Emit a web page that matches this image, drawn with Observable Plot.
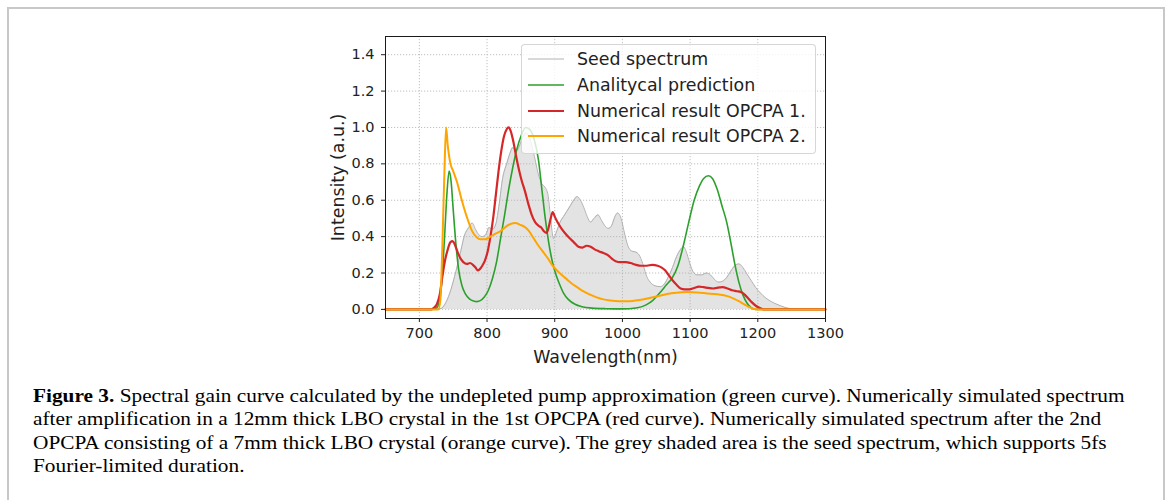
<!DOCTYPE html>
<html>
<head>
<meta charset="utf-8">
<script src="https://cdn.jsdelivr.net/npm/d3@7"></script>
<script src="https://cdn.jsdelivr.net/npm/@observablehq/plot@0.6"></script>
<style>
  html, body { margin: 0; padding: 0; background: #fff; }
  #page { position: relative; width: 1167px; height: 500px; overflow: hidden; background: #fff; }
  #box { position: absolute; left: 7px; top: 7px; width: 1154px; height: 560px; border: 2px solid #c8c8c8; box-sizing: content-box; }
  #chart { position: absolute; left: 0; top: 0; }
  #legend { position: absolute; left: 521px; top: 44px; width: 293px; height: 108px;
            background: rgba(255,255,255,0.8); border: 1px solid rgba(204,204,204,0.8); border-radius: 4px;
            font-family: "DejaVu Sans", sans-serif; font-size: 17.4px; color: #222; }
  .row { position: absolute; left: 0; height: 26px; line-height: 26px; white-space: nowrap; }
  .row svg { position: absolute; left: 6px; top: 0; }
  .row span { position: absolute; left: 55px; top: 0; }
  #caption { position: absolute; left: 33px; top: 385px; font-family: "Liberation Serif", serif;
             font-size: 18px; line-height: 23.3px; color: #000; white-space: nowrap;
             transform: scaleX(1.184); transform-origin: 0 0; }
</style>
</head>
<body>
<div id="page">
  <div id="box"></div>
  <div id="chart"></div>
  <div id="legend"></div>
  <div id="caption"></div>
</div>
<script>
// Wavelength (nm) / normalised intensity pairs for each spectrum
const seed = [
  [650,0],[720,0],[732,0.005],[738,0.03],[745,0.09],[752,0.18],[760,0.3],[767,0.41],[773,0.45],
  [778,0.475],[783,0.44],[788,0.41],[793,0.4],[798,0.41],[803,0.45],[808,0.44],[813,0.47],[818,0.58],
  [823,0.72],[829,0.8],[834,0.86],[838,0.89],[843,0.87],[848,0.9],[853,0.95],[858,0.97],[864,0.93],
  [870,0.84],[876,0.74],[881,0.69],[886,0.67],[890,0.63],[894,0.5],[898,0.39],[903,0.43],[908,0.48],
  [913,0.51],[918,0.54],[923,0.57],[928,0.6],[933,0.62],[938,0.6],[943,0.56],[948,0.51],[953,0.48],
  [958,0.5],[964,0.52],[969,0.49],[974,0.46],[979,0.445],[984,0.46],[989,0.51],[993,0.53],[998,0.5],
  [1003,0.42],[1008,0.35],[1014,0.32],[1020,0.315],[1026,0.29],[1031,0.24],[1036,0.18],[1041,0.15],
  [1048,0.13],[1056,0.125],[1062,0.14],[1068,0.18],[1074,0.23],[1080,0.29],[1086,0.33],[1090,0.345],
  [1094,0.32],[1099,0.26],[1104,0.21],[1110,0.19],[1117,0.19],[1124,0.2],[1130,0.19],[1136,0.165],
  [1142,0.15],[1148,0.155],[1154,0.175],[1160,0.21],[1166,0.24],[1172,0.25],[1178,0.23],[1184,0.195],
  [1190,0.16],[1197,0.12],[1204,0.09],[1211,0.065],[1219,0.045],[1227,0.03],[1235,0.018],[1243,0.008],
  [1250,0.003],[1258,0],[1300,0]
];
const gain = [
  [650,0],[720,0],[726,0.01],[731,0.07],[735,0.25],[738,0.45],[741,0.65],[744,0.76],[747,0.7],
  [750,0.55],[754,0.36],[758,0.22],[763,0.13],[768,0.085],[774,0.058],[780,0.046],[785,0.043],
  [790,0.048],[796,0.068],[802,0.105],[808,0.17],[814,0.26],[820,0.39],[826,0.52],[832,0.66],
  [838,0.78],[844,0.88],[850,0.95],[857,1.0],[861,0.995],[865,0.98],[870,0.93],[876,0.82],[881,0.66],
  [886,0.5],[891,0.37],[896,0.27],[901,0.2],[907,0.14],[913,0.09],[920,0.055],[930,0.028],[940,0.015],
  [955,0.007],[975,0.004],[1000,0.003],[1020,0.008],[1035,0.025],[1045,0.05],[1055,0.09],[1065,0.135],
  [1073,0.17],[1082,0.24],[1090,0.35],[1098,0.48],[1106,0.6],[1114,0.68],[1120,0.72],[1127,0.735],
  [1133,0.72],[1140,0.66],[1147,0.57],[1154,0.48],[1160,0.37],[1166,0.25],[1172,0.15],[1178,0.08],
  [1184,0.035],[1190,0.01],[1197,0],[1300,0]
];
const opcpa1 = [
  [650,0],[718,0],[722,0.01],[726,0.03],[730,0.08],[734,0.18],[738,0.27],[742,0.33],[746,0.37],
  [749,0.375],[752,0.36],[756,0.32],[760,0.285],[765,0.26],[770,0.25],[775,0.255],[779,0.245],
  [783,0.23],[786,0.215],[789,0.22],[793,0.24],[797,0.27],[801,0.32],[805,0.4],[809,0.5],[813,0.63],
  [817,0.76],[821,0.87],[825,0.95],[829,0.99],[832,1.0],[835,0.98],[839,0.92],[843,0.84],[847,0.77],
  [851,0.71],[856,0.65],[861,0.58],[866,0.52],[871,0.48],[876,0.46],[880,0.45],[884,0.43],[888,0.42],
  [891,0.45],[894,0.5],[897,0.535],[900,0.51],[904,0.48],[909,0.45],[915,0.42],[921,0.395],[928,0.37],
  [935,0.345],[941,0.34],[947,0.35],[953,0.345],[959,0.33],[965,0.32],[972,0.31],[978,0.3],[984,0.28],
  [990,0.265],[997,0.26],[1005,0.26],[1012,0.255],[1020,0.245],[1028,0.24],[1036,0.24],[1044,0.245],
  [1052,0.24],[1058,0.23],[1063,0.215],[1068,0.19],[1074,0.16],[1080,0.135],[1086,0.115],[1092,0.11],
  [1099,0.11],[1106,0.118],[1113,0.125],[1120,0.122],[1127,0.118],[1134,0.115],[1141,0.12],[1148,0.122],
  [1155,0.115],[1162,0.105],[1169,0.1],[1175,0.095],[1181,0.08],[1186,0.06],[1191,0.04],[1197,0.02],
  [1203,0.008],[1210,0],[1300,0]
];
const opcpa2 = [
  [650,0],[728,0],[731,0.05],[734,0.35],[737,0.75],[739.5,1.0],[742,0.9],[746,0.8],[750,0.76],
  [755.6,0.7],[762,0.61],[770,0.51],[778,0.43],[785,0.395],[790,0.385],[797,0.385],[805,0.4],
  [812,0.415],[820,0.43],[828,0.455],[835,0.47],[842,0.475],[849,0.465],[855,0.455],[862,0.43],
  [869,0.39],[876,0.35],[882,0.32],[889,0.285],[896,0.245],[903,0.215],[910,0.19],[918,0.165],
  [926,0.14],[934,0.12],[942,0.1],[952,0.082],[962,0.066],[972,0.055],[982,0.049],[995,0.045],
  [1010,0.045],[1025,0.052],[1040,0.063],[1055,0.075],[1066,0.085],[1080,0.092],[1095,0.095],
  [1110,0.093],[1125,0.088],[1140,0.083],[1155,0.073],[1165,0.058],[1172,0.045],[1179,0.03],
  [1186,0.015],[1193,0.004],[1200,0],[1300,0]
];

const seriesNames = ["Seed spectrum", "Analitycal prediction", "Numerical result OPCPA 1.", "Numerical result OPCPA 2."];
const seriesColors = ["#a9a9a9", "#2ca02c", "#d62728", "#ffa500"];
const seriesWidths = [0.9, 1.6, 2.2, 2.0];

const xTicks = [700, 800, 900, 1000, 1100, 1200, 1300];
const yTicks = [0, 0.2, 0.4, 0.6, 0.8, 1.0, 1.2, 1.4];

const captionLines = [
  ["Figure 3.", " Spectral gain curve calculated by the undepleted pump approximation (green curve). Numerically simulated spectrum"],
  ["", "after amplification in a 12mm thick LBO crystal in the 1st OPCPA (red curve). Numerically simulated spectrum after the 2nd"],
  ["", "OPCPA consisting of a 7mm thick LBO crystal (orange curve). The grey shaded area is the seed spectrum, which supports 5fs"],
  ["", "Fourier-limited duration."]
];

const X = d => d[0], Y = d => d[1];
const gridStyle = {stroke: "#b0b0b0", strokeOpacity: 1, strokeWidth: 0.8, strokeDasharray: "1.2,1.8"};

const chart = Plot.plot({
  width: 1167,
  height: 380,
  marginLeft: 385,
  marginRight: 342,
  marginTop: 36,
  marginBottom: 62,
  x: {domain: [650, 1300]},
  y: {domain: [-0.05, 1.5]},
  style: {fontFamily: "DejaVu Sans, sans-serif", color: "#222", background: "transparent"},
  marks: [
    Plot.areaY(seed, {x: X, y: Y, fill: "#e3e3e3", curve: "monotone-x"}),
    Plot.gridX(xTicks, gridStyle),
    Plot.gridY(yTicks, gridStyle),
    Plot.line(seed, {x: X, y: Y, stroke: seriesColors[0], strokeWidth: seriesWidths[0], curve: "monotone-x"}),
    Plot.line(gain, {x: X, y: Y, stroke: seriesColors[1], strokeWidth: seriesWidths[1], curve: "monotone-x"}),
    Plot.line(opcpa1, {x: X, y: Y, stroke: seriesColors[2], strokeWidth: seriesWidths[2], curve: "monotone-x"}),
    Plot.line(opcpa2, {x: X, y: Y, stroke: seriesColors[3], strokeWidth: seriesWidths[3], curve: "monotone-x"}),
    Plot.frame({stroke: "#1a1a1a", strokeWidth: 1}),
    Plot.axisX({ticks: xTicks, tickFormat: d3.format("d"), tickSize: 4, tickPadding: 5, fontSize: 14.5, label: null}),
    Plot.axisY({ticks: yTicks, tickFormat: d3.format(".1f"), tickSize: 4, tickPadding: 7, fontSize: 14.5, label: null}),
    Plot.text(["Wavelength(nm)"], {frameAnchor: "bottom", dy: 44, fontSize: 17.4, fill: "#222"}),
    Plot.text(["Intensity (a.u.)"], {frameAnchor: "left", textAnchor: "middle", rotate: -90, dx: -47, fontSize: 17.4, fill: "#222"})
  ]
});
document.getElementById("chart").appendChild(chart);

// Legend entries
const legend = document.getElementById("legend");
seriesNames.forEach((name, i) => {
  const row = document.createElement("div");
  row.className = "row";
  row.style.top = (1 + i * 25.8) + "px";
  row.style.width = "100%";
  row.innerHTML = `<svg width="38" height="26"><line x1="0" x2="36" y1="13" y2="13" stroke="${seriesColors[i]}" stroke-width="${seriesWidths[i]}"/></svg><span></span>`;
  row.querySelector("span").textContent = name;
  legend.appendChild(row);
});

// Caption below the chart
const caption = document.getElementById("caption");
captionLines.forEach(([bold, rest], i) => {
  if (i > 0) caption.appendChild(document.createElement("br"));
  if (bold) {
    const b = document.createElement("b");
    b.textContent = bold;
    caption.appendChild(b);
  }
  caption.appendChild(document.createTextNode(rest));
});
</script>
</body>
</html>
